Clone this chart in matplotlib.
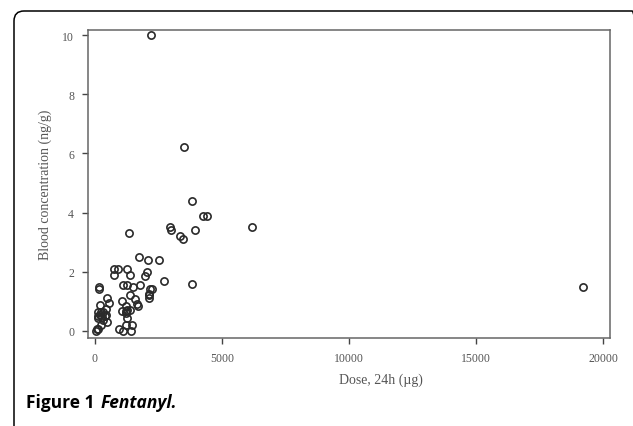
import matplotlib
matplotlib.use("Agg")
import matplotlib.pyplot as plt
from matplotlib.patches import FancyBboxPatch
from matplotlib.transforms import IdentityTransform

dose = [2200, 3500, 3800, 4250, 4400, 2950, 3000, 3950, 6200, 3350,
        3450, 1330, 1730, 2090, 2520, 750, 900, 750, 1250, 1360,
        2050, 1950, 2700, 1100, 1260, 1500, 1770, 3830, 2150, 2250,
        2130, 2120, 2110, 170, 170, 1365, 1570, 1670, 1700, 485,
        540, 1050, 1060, 1230, 1370, 1210, 1240, 1270, 215, 130,
        230, 310, 130, 280, 445, 445, 460, 230, 300, 130,
        40, 80, 940, 1100, 1220, 1440, 1420, 19200, 130, 210,
        400, 1250]
conc = [10.0, 6.2, 4.4, 3.9, 3.9, 3.5, 3.4, 3.4, 3.5, 3.2,
        3.1, 3.3, 2.5, 2.4, 2.4, 2.1, 2.1, 1.9, 2.1, 1.9,
        2.0, 1.85, 1.7, 1.55, 1.55, 1.5, 1.55, 1.6, 1.4, 1.4,
        1.25, 1.2, 1.1, 1.5, 1.42, 1.2, 1.08, 0.9, 0.85, 1.1,
        0.95, 1.0, 0.67, 0.83, 0.69, 0.67, 0.6, 0.45, 0.88, 0.65,
        0.63, 0.63, 0.5, 0.46, 0.74, 0.55, 0.3, 0.2, 0.38, 0.07,
        0.0, 0.05, 0.07, 0.0, 0.2, 0.2, 0.0, 1.5, 0.42, 0.55,
        0.5, 0.7]

x_ticks = [0, 5000, 10000, 15000, 20000]
y_ticks = [0, 2, 4, 6, 8, 10]

W, H = 633, 427
fig = plt.figure(figsize=(W / 100, H / 100), dpi=100)
ax = fig.add_axes([88 / W, (H - 339) / H, 522 / W, 308 / H])

ax.plot(dose, conc, linestyle="none", marker="o", markersize=5.2,
        markerfacecolor="none", markeredgecolor="#2a2a2a", markeredgewidth=1.2)

ax.set_xlim(-275, 20275)
ax.set_ylim(-0.24, 10.17)
ax.set_xticks(x_ticks)
ax.set_xticklabels([str(v) for v in x_ticks])
ax.set_yticks(y_ticks)
ax.set_yticklabels([str(v) for v in y_ticks])

for s in ax.spines.values():
    s.set_color("#666666")
    s.set_linewidth(1.1)

ax.tick_params(direction="out", length=4, width=1, color="#444444",
               labelcolor="#555555", labelsize=8.5, pad=6)
for lab in ax.get_xticklabels() + ax.get_yticklabels():
    lab.set_family("Liberation Serif")

fig.text(45 / W, 1 - 185 / H, "Blood concentration (ng/g)", rotation=90,
         ha="center", va="center", family="Liberation Serif", fontsize=10,
         color="#555555")
fig.text(381 / W, 1 - 380 / H, "Dose, 24h (\u00b5g)", ha="center", va="center",
         family="Liberation Serif", fontsize=10, color="#555555")

# caption under the chart
t1 = fig.text(26 / W, 1 - 403 / H, "Figure 1", ha="left", va="center",
              family="Open Sans", fontweight="bold", fontsize=12.5, color="black")
ax.annotate("Fentanyl.", xy=(1, 0.5), xycoords=t1, xytext=(4, 0),
            textcoords="offset points", ha="left", va="center",
            family="Open Sans", fontstyle="italic", fontweight="bold",
            fontsize=12.5, color="black", annotation_clip=False)

# rounded box around the whole figure
frame = FancyBboxPatch((14, -30), 628, H - 12 + 30,
                       boxstyle="round,pad=0,rounding_size=10",
                       transform=IdentityTransform(), fill=False,
                       edgecolor="black", linewidth=1.1)
fig.add_artist(frame)

fig.savefig("out.png", dpi=100)
